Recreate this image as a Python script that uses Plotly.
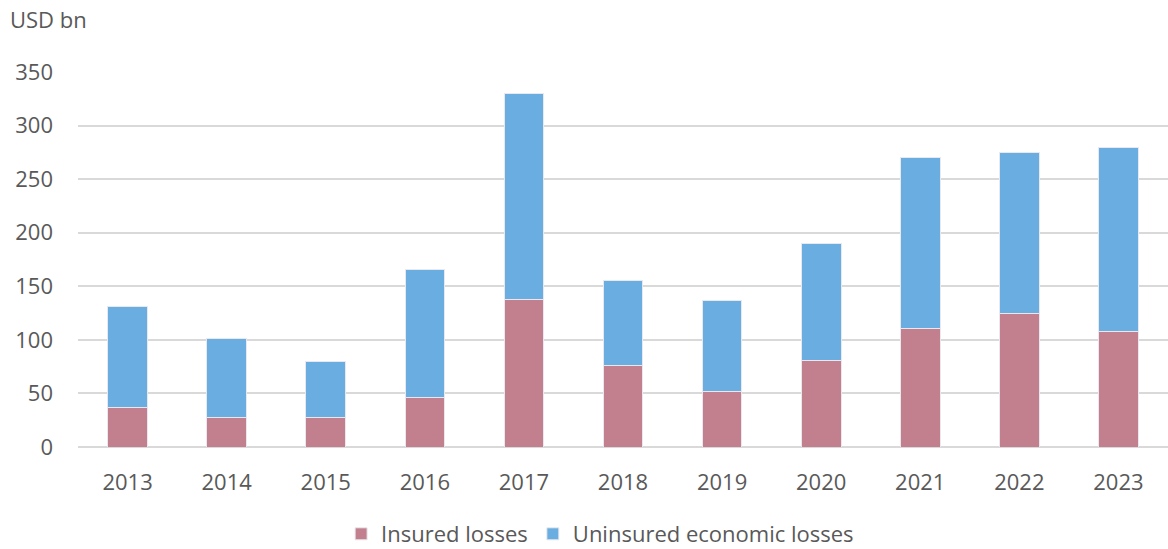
import plotly.graph_objects as go

years = ["2013", "2014", "2015", "2016", "2017", "2018", "2019", "2020", "2021", "2022", "2023"]
insured = [37, 28, 28, 46, 138, 76, 52, 81, 111, 125, 108]
total = [131, 101, 80, 166, 330, 155, 137, 190, 270, 275, 280]
uninsured = [t - i for t, i in zip(total, insured)]

fig = go.Figure()
fig.add_trace(go.Bar(x=years, y=insured, name="Insured losses",
                     marker=dict(color="#C27F8E", line=dict(color="#E8E8EE", width=1))))
fig.add_trace(go.Bar(x=years, y=uninsured, name="Uninsured economic losses",
                     marker=dict(color="#6AADE0", line=dict(color="#E8E8EE", width=1))))

fig.update_layout(
    barmode="stack",
    bargap=0.6,
    width=1168, height=549,
    margin=dict(l=78, r=0, t=72, b=102, autoexpand=False),
    plot_bgcolor="white", paper_bgcolor="white",
    font=dict(family="Open Sans, Noto Sans, sans-serif", size=22, color="#595959"),
    yaxis=dict(range=[0, 350], dtick=50, showgrid=True, gridcolor="#D9D9D9", gridwidth=2,
               zeroline=True, zerolinecolor="#D9D9D9", zerolinewidth=2,
               ticks="", ticklabelstandoff=24, tickfont=dict(size=22)),
    xaxis=dict(showgrid=False, ticks="", tickfont=dict(size=22), ticklabelstandoff=20),
    legend=dict(orientation="h", x=0.479, xanchor="center", y=-0.232, yanchor="middle",
                font=dict(size=22), traceorder="normal", itemwidth=30),
    annotations=[dict(text="USD bn", xref="paper", yref="paper", x=-0.064, y=1.095,
                      xanchor="left", yanchor="bottom", showarrow=False,
                      font=dict(size=22, color="#595959"))],
)
fig.write_html("out.html", config={"displayModeBar": False},
               post_script="document.body.style.margin='0';document.body.style.overflow='hidden';")
